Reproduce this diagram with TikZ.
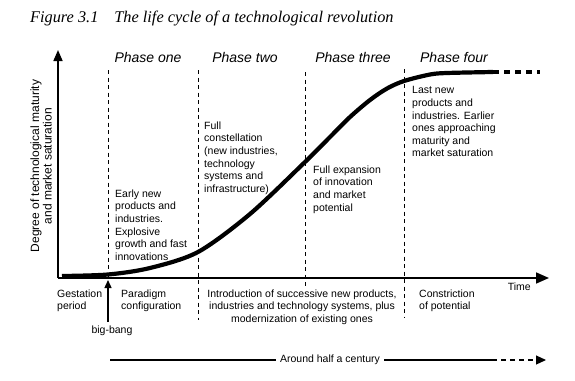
\documentclass[tikz,border=0pt]{standalone}
\usepackage{fontspec}
\setmainfont{Liberation Serif}
\newfontfamily\arialf{Liberation Sans}
\usetikzlibrary{arrows.meta}
\tikzset{
  body/.style={font=\arialf\fontsize{10.5}{12.6}\selectfont, align=left, inner sep=0pt, anchor=north west},
  bodyc/.style={font=\arialf\fontsize{10.5}{12.6}\selectfont, align=center, inner sep=0pt, anchor=north},
  phase/.style={font=\arialf\itshape\fontsize{14}{16}\selectfont, inner sep=0pt, anchor=base},
  phaseline/.style={line width=0.6pt, dash pattern=on 4pt off 3.5pt},
  axis/.style={line width=1.6pt},
  curve/.style={line width=4.2pt, line cap=butt},
}
\begin{document}
\begin{tikzpicture}[x=1pt,y=-1pt]
\useasboundingbox (0,0) rectangle (575,380);
% title
\node[font=\itshape\fontsize{16.3}{19}\selectfont, anchor=base west, inner sep=0pt] (title) at (30,22) {Figure 3.1\hspace{16pt}The life cycle of a technological revolution};
% axes
\coordinate (o) at (58,278);
\coordinate (ytop) at (58,50);
\coordinate (xend) at (549,278);
\draw[axis, -{Triangle[length=11pt,width=9pt]}] (o) -- (ytop);
\draw[axis, -{Triangle[length=13pt,width=11pt]}] (o) -- (xend);
\node[font=\arialf\fontsize{12}{12.5}\selectfont, align=center, rotate=90, inner sep=0pt] (ylab) at (41,166) {Degree of technological maturity\\and market saturation};
\node[font=\arialf\fontsize{10.5}{12}\selectfont, anchor=base east, inner sep=0pt] (time) at (531,290) {Time};
% phase lines
\coordinate (p1t) at (108,70); \coordinate (p1b) at (108,278);
\coordinate (p2t) at (198,70); \coordinate (p2b) at (198,320);
\coordinate (p3t) at (305,72); \coordinate (p3b) at (305,286);
\coordinate (p4t) at (404,69); \coordinate (p4b) at (404,318);
\draw[phaseline] (p1t) -- (p1b);
\draw[phaseline] (p2t) -- (p2b);
\draw[phaseline] (p3t) -- (p3b);
\draw[phaseline] (p4t) -- (p4b);
% phase labels
\node[phase] (ph1) at (148,62) {Phase one};
\node[phase] (ph2) at (245,62) {Phase two};
\node[phase] (ph3) at (353,62) {Phase three};
\node[phase] (ph4) at (454,62) {Phase four};
% curve
\draw[curve] plot[smooth, tension=0.5] coordinates {(62,276) (108,274.5) (150,268) (198,252) (250,214) (305,162) (330,137) (350,117) (370,100) (387,88.5) (404,81) (430,74.5) (447,73) (493,72)};
\coordinate (ds) at (493,72); \coordinate (de) at (540,72);
\draw[curve, dash pattern=on 6pt off 5pt] (ds) -- (de);
% phase texts
\node[body] (t1) at (115,189.5) {Early new\\products and\\industries.\\Explosive\\growth and fast\\innovations};
\node[body] (t2) at (204,121.5) {Full\\constellation\\(new industries,\\technology\\systems and\\infrastructure)};
\node[body] (t3) at (313,165.5) {Full expansion\\of innovation\\and market\\potential};
\node[body] (t4) at (412,86.5) {Last new\\products and\\industries. Earlier\\ones approaching\\maturity and\\market saturation};
% below axis
\node[body] (b1) at (57,289.5) {Gestation\\period};
\node[body] (b2) at (121,289.5) {Paradigm\\configuration};
\node[bodyc] (b3) at (302,289.5) {Introduction of successive new products,\\industries and technology systems, plus\\modernization of existing ones};
\node[body] (b4) at (419,289.5) {Constriction\\of potential};
% big bang
\node[font=\arialf\fontsize{10.5}{12}\selectfont, anchor=base, inner sep=0pt] (bb) at (112,333) {big-bang};
\coordinate (bbs) at (108,322);
\coordinate (bbe) at (108,280);
\draw[line width=1.4pt, -{Triangle[length=8pt,width=7pt]}] (bbs) -- (bbe);
% half century
\node[font=\arialf\fontsize{10.5}{12}\selectfont, inner sep=0pt] (hc) at (330,360) {Around half a century};
\coordinate (hl) at (110,360);
\coordinate (hr1) at (492,360);
\coordinate (hr2) at (546,360);
\draw[line width=1.1pt] (hl) -- ([xshift=-4pt]hc.west);
\draw[line width=1.1pt] ([xshift=4pt]hc.east) -- (hr1);
\draw[line width=1.1pt, dash pattern=on 5pt off 4pt, -{Triangle[length=10pt,width=9pt]}] (hr1) -- (hr2);
\end{tikzpicture}
\end{document}
